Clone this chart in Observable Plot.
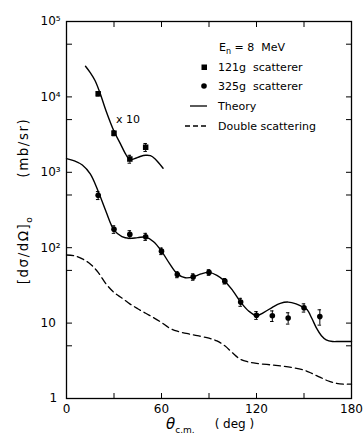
<!DOCTYPE html>
<html><head><meta charset="utf-8">
<script src="https://cdn.jsdelivr.net/npm/d3@7"></script>
<script src="https://cdn.jsdelivr.net/npm/@observablehq/plot@0.6"></script>
<style>
body{margin:0;background:#fff}
svg text{font-family:"DejaVu Sans",sans-serif}
</style>
</head><body><div id="chart"></div>
<script>
// 121 g scatterer (values shown x10)
const angles121 = [20, 30, 40, 50];
const values121 = [11000, 3300, 1500, 2150];
const errors121 = [700, 250, 180, 260];

// 325 g scatterer
const angles325 = [20, 30, 40, 50, 60, 70, 80, 90, 100, 110, 120, 130, 140, 150, 160];
const values325 = [495, 175, 150, 140, 90, 44, 41, 47, 36, 19, 12.7, 12.5, 11.7, 16, 12.2];
const errors325 = [60, 20, 18, 15, 9, 4, 4, 4, 3, 2.3, 1.5, 2, 2, 2, 2.8];

// Theory (main, 325 g)
const theoryAngles = [0, 5, 10, 15, 20, 25, 30, 35, 40, 45, 50, 55, 60, 65, 70, 75, 80, 85, 90, 95, 100, 105, 110, 115, 120, 125, 130, 135, 140, 145, 150, 152, 155, 158, 161, 164, 168, 172, 176, 180];
const theoryValues = [1520, 1420, 1250, 950, 560, 300, 172, 140, 133, 136, 138, 120, 90, 62, 45, 40, 41, 45, 47, 43, 36, 27, 19, 14.5, 12.6, 14, 16.2, 18.3, 19, 18, 16, 15, 11.5, 8.5, 6.8, 6.0, 5.7, 5.7, 5.7, 5.7];

// Theory x10 (121 g)
const theory10Angles = [12, 15, 18, 21, 25, 30, 34, 37, 40, 43, 46.5, 50, 53, 56, 61];
const theory10Values = [25500, 21000, 16500, 11500, 6500, 3500, 2400, 1800, 1470, 1520, 1620, 1680, 1660, 1500, 1130];

// Double scattering
const doubleAngles = [0, 5, 10, 15, 20, 25, 30, 35, 40, 45, 50, 55, 60, 65, 70, 80, 90, 95, 100, 105, 110, 115, 120, 130, 140, 150, 155, 160, 165, 170, 175, 180];
const doubleValues = [80, 78, 71, 61, 47, 33, 25.5, 21.5, 18, 15.5, 13.5, 11.8, 10.2, 8.6, 7.8, 7.0, 6.3, 5.8, 5.0, 4.0, 3.3, 3.05, 2.92, 2.78, 2.62, 2.38, 2.15, 1.92, 1.72, 1.6, 1.55, 1.55];

const xLabelTicks = [0, 60, 120, 180];
const xMinorTicks = [30, 60, 90, 120, 150];
const yLabelTicks = [10, 100, 1000, 10000, 100000];
const yTicks = [5, 10, 50, 100, 500, 1000, 5000, 10000, 50000];

const sup = {"0":"⁰","1":"¹","2":"²","3":"³","4":"⁴","5":"⁵"};
const fmtY = d => d === 10 ? "10" : "10" + sup[String(Math.round(Math.log10(d)))];

const pts121 = angles121.map((a, i) => ({x: a, y: values121[i], lo: values121[i] - errors121[i], hi: values121[i] + errors121[i]}));
const pts325 = angles325.map((a, i) => ({x: a, y: values325[i], lo: values325[i] - errors325[i], hi: values325[i] + errors325[i]}));
const allPts = pts121.concat(pts325);
const theory = theoryAngles.map((a, i) => ({x: a, y: theoryValues[i]}));
const theory10 = theory10Angles.map((a, i) => ({x: a, y: theory10Values[i]}));
const dbl = doubleAngles.map((a, i) => ({x: a, y: doubleValues[i]}));
const cap = 1.1;

const plot = Plot.plot({
  width: 363, height: 440,
  marginLeft: 66, marginRight: 12, marginTop: 21, marginBottom: 42,
  style: {fontFamily: "DejaVu Sans, sans-serif", fontSize: "12px", background: "white", color: "black", overflow: "visible"},
  x: {domain: [0, 180]},
  y: {type: "log", domain: [1, 100000]},
  marks: [
    Plot.line(dbl, {x: "x", y: "y", curve: "catmull-rom", stroke: "black", strokeWidth: 1.3, strokeDasharray: "7,4"}),
    Plot.line(theory, {x: "x", y: "y", curve: "catmull-rom", stroke: "black", strokeWidth: 1.4}),
    Plot.line(theory10, {x: "x", y: "y", curve: "catmull-rom", stroke: "black", strokeWidth: 1.4}),
    Plot.ruleX(allPts, {x: "x", y1: "lo", y2: "hi", stroke: "black", strokeWidth: 1}),
    Plot.ruleY(allPts, {y: "lo", x1: d => d.x - cap, x2: d => d.x + cap, stroke: "black", strokeWidth: 1}),
    Plot.ruleY(allPts, {y: "hi", x1: d => d.x - cap, x2: d => d.x + cap, stroke: "black", strokeWidth: 1}),
    Plot.dot(pts121, {x: "x", y: "y", symbol: "square", r: 3.1, fill: "black", stroke: "none"}),
    Plot.dot(pts325, {x: "x", y: "y", r: 2.8, fill: "black", stroke: "none"}),
    Plot.frame({stroke: "black", strokeWidth: 1.3}),
    Plot.axisX(xLabelTicks, {anchor: "bottom", tickSize: 0, tickPadding: 6, label: null, fontSize: 12}),
    Plot.axisX(xMinorTicks, {anchor: "bottom", tickSize: -5, tickFormat: () => "", label: null}),
    Plot.axisX(xMinorTicks, {anchor: "top", tickSize: -5, tickFormat: () => "", label: null}),
    Plot.axisY(yTicks, {anchor: "left", tickSize: -6, tickFormat: () => "", label: null}),
    Plot.axisY(yTicks, {anchor: "right", tickSize: -6, tickFormat: () => "", label: null}),
    Plot.axisY(yLabelTicks, {anchor: "left", tickSize: 0, tickPadding: 26, textAnchor: "start", tickFormat: fmtY, label: null, fontSize: 12}),
    Plot.axisY([1], {anchor: "left", tickSize: 0, tickPadding: 17, textAnchor: "start", tickFormat: () => "1", label: null, fontSize: 12})
  ]
});
document.getElementById("chart").appendChild(plot);

const svg = d3.select(plot);
// y-axis title
const yt = svg.append("text").attr("transform", "translate(28,201) rotate(-90)")
  .attr("text-anchor", "middle").attr("font-size", 13.5).attr("letter-spacing", 1.5).attr("fill", "black");
yt.append("tspan").text("[dσ/dΩ]");
yt.append("tspan").attr("font-size", 9).attr("dy", 4).text("o");
yt.append("tspan").attr("dx", 38).attr("dy", -4).text("(mb/sr)");

// x-axis title
const xt = svg.append("text").attr("x", 166).attr("y", 429).attr("text-anchor", "start").attr("fill", "black");
xt.append("tspan").attr("font-size", 15).attr("font-style", "italic").text("θ");
xt.append("tspan").attr("font-size", 9).attr("dy", 4).text("c.m.");
xt.append("tspan").attr("font-size", 12).attr("dx", 20).attr("dy", -5).text("( deg )");

// "x 10" annotation
svg.append("text").attr("x", 116).attr("y", 123).attr("text-anchor", "start").attr("font-size", 11).attr("fill", "black").text("x 10");

// Legend
const lg = svg.append("g").attr("fill", "black").attr("font-size", 11).attr("text-anchor", "start");
const en = lg.append("text").attr("x", 219).attr("y", 51);
en.append("tspan").text("E");
en.append("tspan").attr("font-size", 8).attr("dy", 3).text("n");
en.append("tspan").attr("dy", -3).text(" = 8  MeV");
lg.append("rect").attr("x", 201.5).attr("y", 64.5).attr("width", 5.5).attr("height", 5.5);
lg.append("text").attr("x", 218).attr("y", 71).text("121g  scatterer");
lg.append("circle").attr("cx", 204).attr("cy", 86).attr("r", 2.8);
lg.append("text").attr("x", 218).attr("y", 90).text("325g  scatterer");
lg.append("line").attr("x1", 190).attr("x2", 207).attr("y1", 106).attr("y2", 106).attr("stroke", "black").attr("stroke-width", 1.3);
lg.append("text").attr("x", 218).attr("y", 110).text("Theory");
lg.append("line").attr("x1", 185).attr("x2", 208).attr("y1", 126).attr("y2", 126).attr("stroke", "black").attr("stroke-width", 1.3).attr("stroke-dasharray", "5,3");
lg.append("text").attr("x", 218).attr("y", 130).text("Double scattering");
</script>
</body></html>
